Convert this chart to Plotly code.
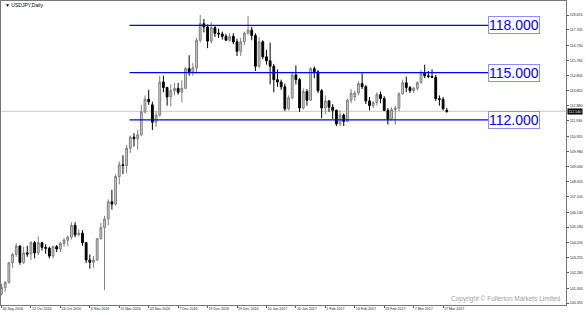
import plotly.graph_objects as go
import pandas as pd

# ---- data (USDJPY daily) ----
dates = [
    "2016-09-30", "2016-10-03", "2016-10-04", "2016-10-05", "2016-10-06", "2016-10-07", "2016-10-10", "2016-10-11", "2016-10-12", "2016-10-13",
    "2016-10-14", "2016-10-17", "2016-10-18", "2016-10-19", "2016-10-20", "2016-10-21", "2016-10-24", "2016-10-25", "2016-10-26", "2016-10-27",
    "2016-10-28", "2016-10-31", "2016-11-01", "2016-11-02", "2016-11-03", "2016-11-04", "2016-11-07", "2016-11-08", "2016-11-09", "2016-11-10",
    "2016-11-11", "2016-11-14", "2016-11-15", "2016-11-16", "2016-11-17", "2016-11-18", "2016-11-21", "2016-11-22", "2016-11-23", "2016-11-24",
    "2016-11-25", "2016-11-28", "2016-11-29", "2016-11-30", "2016-12-01", "2016-12-02", "2016-12-05", "2016-12-06", "2016-12-07", "2016-12-08",
    "2016-12-09", "2016-12-12", "2016-12-13", "2016-12-14", "2016-12-15", "2016-12-16", "2016-12-19", "2016-12-20", "2016-12-21", "2016-12-22",
    "2016-12-23", "2016-12-26", "2016-12-27", "2016-12-28", "2016-12-29", "2016-12-30", "2017-01-02", "2017-01-03", "2017-01-04", "2017-01-05",
    "2017-01-06", "2017-01-09", "2017-01-10", "2017-01-11", "2017-01-12", "2017-01-13", "2017-01-16", "2017-01-17", "2017-01-18", "2017-01-19",
    "2017-01-20", "2017-01-23", "2017-01-24", "2017-01-25", "2017-01-26", "2017-01-27", "2017-01-30", "2017-01-31", "2017-02-01", "2017-02-02",
    "2017-02-03", "2017-02-06", "2017-02-07", "2017-02-08", "2017-02-09", "2017-02-10", "2017-02-13", "2017-02-14", "2017-02-15", "2017-02-16",
    "2017-02-17", "2017-02-20", "2017-02-21", "2017-02-22", "2017-02-23", "2017-02-24", "2017-02-27", "2017-02-28", "2017-03-01", "2017-03-02",
    "2017-03-03", "2017-03-06", "2017-03-07", "2017-03-08", "2017-03-09", "2017-03-10", "2017-03-13", "2017-03-14", "2017-03-15", "2017-03-16",
    "2017-03-17", "2017-03-20",
]

open_ = [
    100.95, 101.35, 101.68, 102.92, 103.45, 103.98, 102.95, 103.55, 103.48, 104.20,
    103.55, 104.20, 103.90, 103.85, 103.35, 103.95, 103.80, 104.15, 104.35, 104.55,
    105.30, 104.70, 104.80, 104.20, 103.10, 102.95, 103.10, 104.45, 105.15, 105.70,
    106.80, 106.65, 108.40, 109.15, 109.10, 110.20, 110.90, 110.80, 111.05, 112.50,
    113.30, 112.95, 111.85, 112.30, 114.40, 114.05, 113.45, 113.85, 114.00, 113.75,
    114.00, 115.25, 115.05, 115.30, 117.05, 118.10, 117.90, 117.00, 117.85, 117.50,
    117.45, 117.30, 117.05, 117.30, 116.95, 116.35, 116.95, 117.50, 117.70, 117.35,
    115.40, 116.95, 116.00, 115.75, 115.40, 114.55, 114.40, 114.10, 112.70, 113.40,
    114.85, 114.55, 112.75, 113.80, 113.25, 115.25, 115.05, 113.85, 112.75, 113.20,
    112.80, 112.60, 111.75, 112.30, 111.90, 113.25, 113.45, 113.70, 114.30, 114.10,
    113.20, 112.90, 113.10, 113.60, 113.35, 112.60, 112.05, 112.65, 112.75, 113.65,
    114.35, 114.05, 113.85, 114.00, 114.35, 114.95, 114.80, 114.75, 114.70, 113.35,
    113.30, 112.60,
]
high = [
    101.60, 101.75, 102.98, 103.55, 104.17, 104.05, 103.95, 104.00, 104.30, 104.30,
    104.60, 104.25, 104.10, 103.95, 104.00, 104.05, 104.25, 104.50, 104.65, 105.50,
    105.50, 105.05, 105.00, 104.25, 103.45, 103.35, 104.50, 105.45, 105.90, 106.95,
    107.55, 108.55, 109.35, 109.75, 110.40, 111.00, 111.15, 111.35, 112.95, 113.55,
    113.90, 113.15, 112.55, 114.80, 114.80, 114.10, 114.25, 114.35, 114.35, 114.50,
    115.35, 116.10, 115.60, 117.20, 118.66, 118.40, 118.05, 118.20, 117.95, 117.80,
    117.60, 117.45, 117.50, 117.50, 117.15, 117.20, 117.60, 118.60, 117.90, 117.50,
    117.25, 117.05, 116.45, 116.90, 115.55, 115.20, 114.55, 114.30, 113.55, 115.05,
    115.45, 114.65, 114.00, 113.95, 115.35, 115.40, 115.15, 113.95, 113.55, 113.25,
    113.00, 112.65, 112.60, 112.40, 113.35, 113.95, 113.85, 114.45, 114.95, 114.20,
    113.45, 113.20, 113.75, 113.80, 113.50, 112.75, 112.80, 112.90, 113.75, 114.55,
    114.75, 114.15, 114.10, 114.45, 115.15, 115.50, 115.10, 115.20, 114.85, 113.55,
    113.45, 112.75,
]
low = [
    100.85, 101.10, 101.60, 102.60, 103.30, 102.80, 102.85, 103.30, 103.10, 103.20,
    103.40, 103.70, 103.50, 103.20, 103.20, 103.60, 103.60, 103.95, 104.00, 104.40,
    104.55, 104.60, 104.00, 102.90, 102.55, 102.60, 103.05, 104.40, 101.20, 105.30,
    106.30, 106.55, 107.90, 108.55, 108.60, 109.90, 110.30, 110.10, 110.95, 112.40,
    112.95, 111.35, 111.55, 112.20, 113.75, 112.90, 112.85, 113.55, 113.60, 113.10,
    113.95, 114.80, 114.80, 114.95, 116.90, 117.55, 116.55, 116.85, 117.25, 117.20,
    117.10, 117.05, 116.95, 116.80, 116.05, 116.05, 116.75, 117.40, 117.05, 115.10,
    115.30, 115.85, 115.50, 114.25, 113.75, 114.10, 113.90, 112.55, 112.60, 113.30,
    114.25, 112.50, 112.65, 112.90, 113.20, 114.65, 113.70, 112.10, 112.35, 112.50,
    112.05, 111.60, 111.60, 111.60, 111.85, 113.05, 113.20, 113.55, 113.95, 113.00,
    112.60, 112.75, 112.90, 113.05, 112.55, 111.70, 111.95, 111.70, 112.55, 113.60,
    113.75, 113.70, 113.70, 113.85, 114.30, 114.65, 114.65, 114.70, 113.20, 112.90,
    112.60, 112.45,
]
close = [
    101.35, 101.68, 102.92, 103.45, 103.98, 102.95, 103.55, 103.48, 104.20, 103.55,
    104.20, 103.90, 103.85, 103.35, 103.95, 103.80, 104.15, 104.35, 104.55, 105.30,
    104.70, 104.80, 104.20, 103.10, 102.95, 103.10, 104.45, 105.15, 105.70, 106.80,
    106.65, 108.40, 109.15, 109.10, 110.20, 110.90, 110.80, 111.05, 112.50, 113.30,
    113.15, 111.85, 112.30, 114.40, 114.05, 113.45, 113.85, 114.00, 113.75, 114.00,
    115.25, 115.05, 115.30, 117.05, 118.10, 117.90, 117.00, 117.85, 117.50, 117.45,
    117.30, 117.05, 117.30, 116.95, 116.35, 116.95, 117.50, 117.70, 117.35, 115.40,
    116.95, 116.00, 115.75, 115.40, 114.55, 114.40, 114.10, 112.70, 113.40, 114.85,
    114.55, 112.75, 113.80, 113.25, 115.25, 115.05, 113.85, 112.75, 113.20, 112.80,
    112.60, 111.75, 112.30, 111.90, 113.25, 113.70, 113.70, 114.30, 114.10, 113.20,
    112.90, 113.10, 113.60, 113.35, 112.60, 112.05, 112.65, 112.75, 113.65, 114.35,
    114.05, 113.85, 114.00, 114.35, 114.95, 114.80, 114.75, 114.70, 113.35, 113.30,
    112.70, 112.54,
]

levels = [118.0, 115.0, 112.0]
last_price = 112.540
price_ticks = [118.655, 117.705, 116.730, 115.780, 114.805, 113.855, 112.880, 111.930,
               110.955, 109.980, 109.030, 108.055, 107.105, 106.130, 105.180, 104.205,
               103.255, 102.280, 101.305, 100.355]
label_every = 8

# ---- figure ----
idx = list(range(len(dates)))
dt = pd.to_datetime(dates)
tick_idx = idx[::label_every]
tick_txt = [f"{d.day} {d.strftime('%b %Y')}" for d in dt[::label_every]]

fig = go.Figure()
fig.add_trace(go.Candlestick(
    x=idx, open=open_, high=high, low=low, close=close,
    increasing=dict(line=dict(color="#7f7f7f", width=1), fillcolor="#d2d2d2"),
    decreasing=dict(line=dict(color="#000000", width=1), fillcolor="#000000"),
    whiskerwidth=0, showlegend=False, hoverinfo="skip",
))

# current price line
fig.add_shape(type="line", xref="paper", x0=0, x1=1, yref="y", y0=last_price, y1=last_price,
              line=dict(color="#c8c8c8", width=1), layer="below")

# horizontal level lines + labels
for lv in levels:
    fig.add_shape(type="line", xref="x", x0=34.8, x1=132.2, yref="y", y0=lv, y1=lv,
                  line=dict(color="#0000ff", width=1.3))
    fig.add_annotation(x=139.4, y=lv, xref="x", yref="y", text=f"{lv:.3f}", showarrow=False,
                       font=dict(family="Liberation Sans, Arial", size=14, color="#0000ff"),
                       bordercolor="#8c8cff", borderwidth=1, borderpad=0, bgcolor="white")

# current price tag on axis
fig.add_annotation(xref="paper", x=1, xanchor="left", xshift=1, yref="y", y=last_price,
                   text=f"{last_price:.3f}", showarrow=False, bgcolor="black", borderpad=0.5,
                   font=dict(family="Liberation Sans, Arial", size=3.6, color="white"))

# title
fig.add_annotation(xref="paper", yref="paper", x=0.0035, y=0.987, xanchor="left", yanchor="middle",
                   text="▼ USDJPY,Daily", showarrow=False,
                   font=dict(family="Liberation Sans, Arial", size=5, color="black"))

# copyright
fig.add_annotation(xref="paper", yref="paper", x=0.9947, y=0.0197, xanchor="right", yanchor="middle",
                   text="Copyright © Fullerton Markets Limited", showarrow=False,
                   font=dict(family="Liberation Sans, Arial", size=6.5, color="#a0a0a0"))

fig.update_layout(
    width=586, height=315,
    margin=dict(l=1, r=20, t=1, b=10, pad=0),
    paper_bgcolor="white", plot_bgcolor="white",
    font=dict(family="Liberation Sans, Arial", size=3.6, color="#222"),
    xaxis=dict(range=[-0.136, 153.4], rangeslider=dict(visible=False), showgrid=False,
               zeroline=False, tickmode="array", tickvals=tick_idx, ticktext=tick_txt,
               ticks="outside", ticklen=1.5, tickcolor="#555", tickwidth=1,
               ticklabelposition="outside right", tickfont=dict(size=3.6, color="#222"),
               showline=True, linecolor="#777", linewidth=1, mirror=True),
    yaxis=dict(range=[100.242, 119.544], side="right", showgrid=False, zeroline=False,
               tickmode="array", tickvals=price_ticks, ticktext=[f"{v:.3f}" for v in price_ticks],
               ticks="outside", ticklen=2, tickcolor="#555", tickwidth=1,
               tickfont=dict(size=3.6, color="#222"),
               showline=True, linecolor="#777", linewidth=1, mirror=True),
)

fig.write_html("out.html")
